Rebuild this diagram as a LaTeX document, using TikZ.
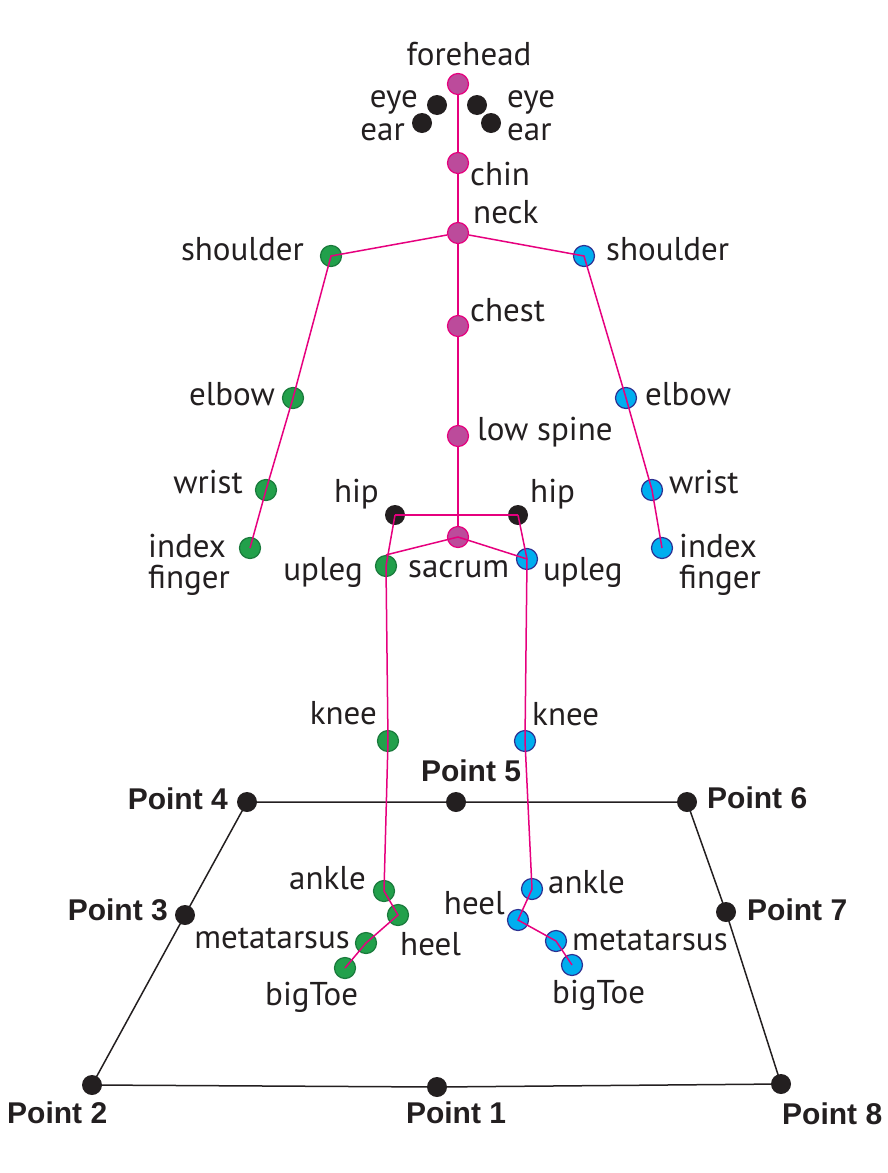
\documentclass[tikz,border=0pt]{standalone}
\usepackage{fontspec}
\setmainfont{PT Sans}
\newfontfamily\ptfont{Liberation Sans}
\usetikzlibrary{backgrounds}
\definecolor{mag}{HTML}{E6007E}
\definecolor{spinefill}{HTML}{BC4B9B}
\definecolor{gfill}{HTML}{22A04B}
\definecolor{gdraw}{HTML}{1A7A3C}
\definecolor{bfill}{HTML}{00AEEF}
\definecolor{bdraw}{HTML}{2E3192}
\definecolor{ink}{HTML}{231F20}
\begin{document}
\begin{tikzpicture}[x=1pt,y=-1pt,
  joint/.style={circle,inner sep=0pt,minimum size=21pt,line width=1.2pt},
  spj/.style={joint,fill=spinefill,draw=mag},
  lj/.style={joint,fill=gfill,draw=gdraw},
  rj/.style={joint,fill=bfill,draw=bdraw},
  dotb/.style={circle,inner sep=0pt,minimum size=20pt,fill=ink},
  lab/.style={inner sep=0pt,text=ink,font=\fontsize{33}{37}\selectfont},
  plab/.style={inner sep=0pt,text=ink,font=\ptfont\bfseries\fontsize{30}{34}\selectfont},
  bone/.style={draw=mag,line width=1.5pt},
  floorline/.style={draw=ink,line width=1.5pt}]
\useasboundingbox (0,0) rectangle (887,1173);
% spine joints
\node[spj] (forehead) at (458,84) {};
\node[spj] (chin) at (458,163) {};
\node[spj] (neck) at (458,233) {};
\node[spj] (chest) at (458,326) {};
\node[spj] (lowspine) at (458,436) {};
\node[spj] (sacrum) at (458,537) {};
% face
\node[dotb] (eyeL) at (437,105) {};
\node[dotb] (earL) at (422,123) {};
\node[dotb] (eyeR) at (477,105) {};
\node[dotb] (earR) at (491,123) {};
% hips
\node[dotb] (hipL) at (395,515) {};
\node[dotb] (hipR) at (518,515) {};
% left (green)
\node[lj] (lsh) at (331,256) {};
\node[lj] (lel) at (293,398) {};
\node[lj] (lwr) at (266,490) {};
\node[lj] (lfi) at (250,548) {};
\node[lj] (lup) at (386,566) {};
\node[lj] (lkn) at (388,741) {};
\node[lj] (lan) at (384,891) {};
\node[lj] (lhe) at (398,915) {};
\node[lj] (lmt) at (366,943) {};
\node[lj] (lbt) at (345,968) {};
% right (blue)
\node[rj] (rsh) at (584,256) {};
\node[rj] (rel) at (626,398) {};
\node[rj] (rwr) at (652,490) {};
\node[rj] (rfi) at (662,548) {};
\node[rj] (rup) at (527,559) {};
\node[rj] (rkn) at (525,741) {};
\node[rj] (ran) at (532,889) {};
\node[rj] (rhe) at (518,920) {};
\node[rj] (rmt) at (556,941) {};
\node[rj] (rbt) at (572,965) {};
% floor points
\node[dotb] (p4) at (247,802) {};
\node[dotb] (p5) at (456,802) {};
\node[dotb] (p6) at (687,802) {};
\node[dotb] (p3) at (185,915) {};
\node[dotb] (p7) at (726,912) {};
\node[dotb] (p2) at (92,1085) {};
\node[dotb] (p1) at (437,1087) {};
\node[dotb] (p8) at (781,1084) {};
% background lines
\begin{scope}[on background layer]
\draw[bone] (forehead.center) -- (chin.center) -- (neck.center) -- (chest.center) -- (lowspine.center) -- (sacrum.center);
\draw[floorline] (p4.center) -- (p5.center) -- (p6.center) -- (p7.center) -- (p8.center) -- (p1.center) -- (p2.center) -- (p3.center) -- cycle;
\end{scope}
% bones on top
\draw[bone] (neck) -- (lsh.center) -- (lel.center) -- (lwr.center) -- (lfi.center);
\draw[bone] (neck) -- (rsh.center) -- (rel.center) -- (rwr.center) -- (rfi.center);
\draw[bone] (hipL.center) -- (hipR.center);
\draw[bone] (hipL.center) -- (lup.center) -- (lkn.center) -- (lan.center) -- (lhe.center) -- (lmt.center) -- (lbt.center);
\draw[bone] (hipR.center) -- (rup.center) -- (rkn.center) -- (ran.center) -- (rhe.center) -- (rmt.center) -- (rbt.center);
\draw[bone] (sacrum.center) -- (lup.north);
\draw[bone] (sacrum.center) -- (rup.center);
% labels
\node[lab,anchor=base] (tforehead) at (469,65) {forehead};
\node[lab,anchor=base east] (teyeL) at (418,107) {eye};
\node[lab,anchor=base east] (tearL) at (405,140) {ear};
\node[lab,anchor=base west] (teyeR) at (507,107) {eye};
\node[lab,anchor=base west] (tearR) at (507,140) {ear};
\node[lab,anchor=base west] (tchin) at (470,185) {chin};
\node[lab,anchor=base west] (tneck) at (473,223) {neck};
\node[lab,anchor=base east] (tlsh) at (304,260) {shoulder};
\node[lab,anchor=base west] (trsh) at (606,260) {shoulder};
\node[lab,anchor=base west] (tchest) at (470,321) {chest};
\node[lab,anchor=base east] (tlel) at (275,405) {elbow};
\node[lab,anchor=base west] (trel) at (645,405) {elbow};
\node[lab,anchor=base west] (tlow) at (477,440) {low spine};
\node[lab,anchor=base east] (tlwr) at (243,493) {wrist};
\node[lab,anchor=base west] (trwr) at (669,493) {wrist};
\node[lab,anchor=base east] (thipL) at (379,502) {hip};
\node[lab,anchor=base west] (thipR) at (530,502) {hip};
\node[lab,anchor=base west] (tlfi) at (148,557) {index};
\node[lab,anchor=base west] (tlfi2) at (148,588) {finger};
\node[lab,anchor=base west] (trfi) at (679,557) {index};
\node[lab,anchor=base west] (trfi2) at (679,588) {finger};
\node[lab,anchor=base east] (tlup) at (363,580) {upleg};
\node[lab,anchor=base west] (tsac) at (408,577) {sacrum};
\node[lab,anchor=base west] (trup) at (543,580) {upleg};
\node[lab,anchor=base east] (tlkn) at (377,724) {knee};
\node[lab,anchor=base west] (trkn) at (532,725) {knee};
\node[lab,anchor=base east] (tlan) at (366,889) {ankle};
\node[lab,anchor=base west] (tran) at (548,893) {ankle};
\node[lab,anchor=base east] (trhe) at (505,914) {heel};
\node[lab,anchor=base east] (tlmt) at (350,948) {metatarsus};
\node[lab,anchor=base west] (tlhe) at (400,955) {heel};
\node[lab,anchor=base west] (trmt) at (572,950) {metatarsus};
\node[lab,anchor=base west] (tlbt) at (265,1005) {bigToe};
\node[lab,anchor=base west] (trbt) at (552,1003) {bigToe};
% point labels
\node[plab,anchor=base east] (tp4) at (228,809) {Point 4};
\node[plab,anchor=base] (tp5) at (471,781) {Point 5};
\node[plab,anchor=base west] (tp6) at (707,808) {Point 6};
\node[plab,anchor=base east] (tp3) at (168,920) {Point 3};
\node[plab,anchor=base west] (tp7) at (747,920) {Point 7};
\node[plab,anchor=base west] (tp2) at (7,1123) {Point 2};
\node[plab,anchor=base] (tp1) at (456,1123) {Point 1};
\node[plab,anchor=base west] (tp8) at (782,1124) {Point 8};
\end{tikzpicture}
\end{document}
